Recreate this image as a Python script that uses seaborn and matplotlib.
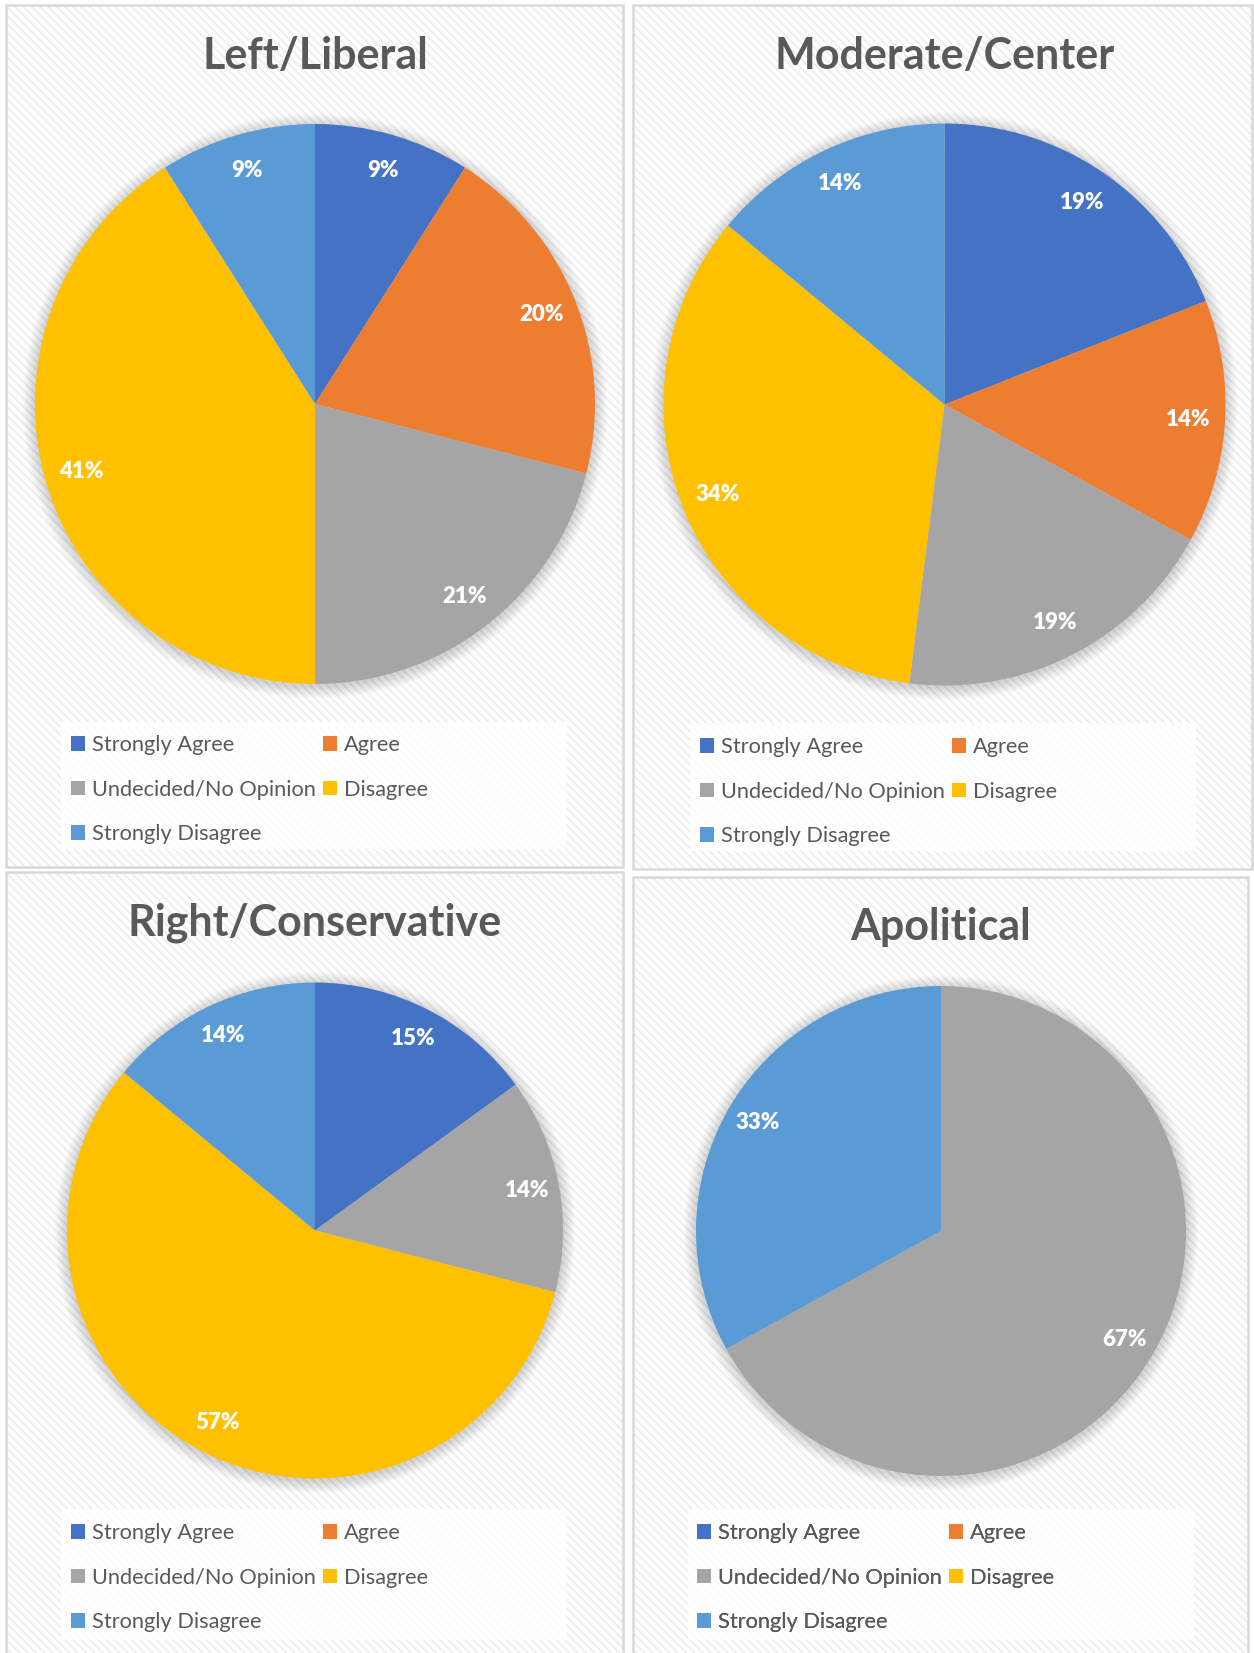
import matplotlib
matplotlib.use('Agg')
import matplotlib.pyplot as plt
from matplotlib.patches import Rectangle, Circle, Patch
import seaborn as sns

# ---------------- data ----------------
categories = ["Strongly Agree", "Agree", "Undecided/No Opinion", "Disagree", "Strongly Disagree"]
titles = ["Left/Liberal", "Moderate/Center", "Right/Conservative", "Apolitical"]
left_liberal = [9, 20, 21, 41, 9]
moderate_center = [19, 14, 19, 34, 14]
right_conservative = [15, 0, 14, 57, 14]
apolitical = [0, 0, 67, 0, 33]
series = [left_liberal, moderate_center, right_conservative, apolitical]

# ---------------- style ----------------
sns.set_theme(style='white')
plt.rcParams['font.family'] = ['Lato', 'DejaVu Sans']
plt.rcParams['hatch.linewidth'] = 1.3
colors = sns.color_palette(['#4472C4', '#ED7D31', '#A5A5A5', '#FFC000', '#5B9BD5'])
TEXT = '#595959'

W, H = 1254, 1653
fig = plt.figure(figsize=(W / 100, H / 100), dpi=100)
ax = fig.add_axes([0, 0, 1, 1])


def Y(y):
    return H - y


panels = [
    dict(box=(6, 5, 623, 867), center=(315, 404), r=280, title_y=56,
         leg=(61, 722, 567, 849), leg_x=71, leg_y=742),
    dict(box=(633, 5, 1252, 869), center=(944.5, 404.5), r=281, title_y=56,
         leg=(690, 723, 1196, 851), leg_x=700, leg_y=744),
    dict(box=(6, 872, 623, 1665), center=(315, 1230.5), r=248, title_y=923,
         leg=(61, 1509, 567, 1640), leg_x=71, leg_y=1530),
    dict(box=(633, 877, 1248, 1665), center=(941, 1231), r=245, title_y=927,
         leg=(688, 1509, 1194, 1640), leg_x=697, leg_y=1530),
]

order = [0, 2, 4, 1, 3]  # row-major legend with 2 columns

for p, title, vals in zip(panels, titles, series):
    x0, y0, x1, y1 = p['box']
    # hatched background
    ax.add_patch(Rectangle((x0, Y(y1)), x1 - x0, y1 - y0, facecolor='white',
                           edgecolor='#ededed', hatch='\\\\\\\\', linewidth=0, zorder=0))
    ax.add_patch(Rectangle((x0, Y(y1)), x1 - x0, y1 - y0, fill=False,
                           edgecolor='#d9d9d9', linewidth=1.8, zorder=1))
    cx, cy = p['center']
    R = p['r']
    # soft shadow
    for i in range(14):
        ax.add_patch(Circle((cx, Y(cy) - 2), R + 1 + i * 0.9, facecolor='black',
                            edgecolor='none', alpha=0.012, zorder=2))
    ax.pie(vals, colors=colors, startangle=90, counterclock=False,
           center=(cx, Y(cy)), radius=R, frame=True,
           wedgeprops=dict(linewidth=0, zorder=3),
           autopct=lambda v: f'{v:.0f}%' if v > 0.5 else '', pctdistance=0.87,
           textprops=dict(color='white', fontsize=16, fontweight='heavy'))
    ax.text(cx, Y(p['title_y']), title, ha='center', va='center', fontsize=31,
            fontweight='bold', color=TEXT, zorder=5)
    lx0, ly0, lx1, ly1 = p['leg']
    ax.add_patch(Rectangle((lx0, Y(ly1)), lx1 - lx0, ly1 - ly0, facecolor='white',
                           edgecolor='none', alpha=0.85, zorder=3))
    handles = [Patch(facecolor=colors[i], edgecolor='none', label=categories[i]) for i in order]
    leg = ax.legend(handles=handles, ncol=2, loc='upper left',
                    bbox_to_anchor=(p['leg_x'], Y(p['leg_y'] - 7)),
                    bbox_transform=ax.transData, frameon=False, borderpad=0,
                    borderaxespad=0, fontsize=15.7, labelcolor=TEXT,
                    handlelength=0.65, handleheight=0.65, handletextpad=0.3,
                    columnspacing=0.35, labelspacing=1.13)
    leg.set_zorder(6)
    ax.add_artist(leg)

ax.set_xlim(0, W)
ax.set_ylim(0, H)
ax.set_aspect('auto')
ax.axis('off')
fig.savefig('out.png', dpi=100, facecolor='white')
